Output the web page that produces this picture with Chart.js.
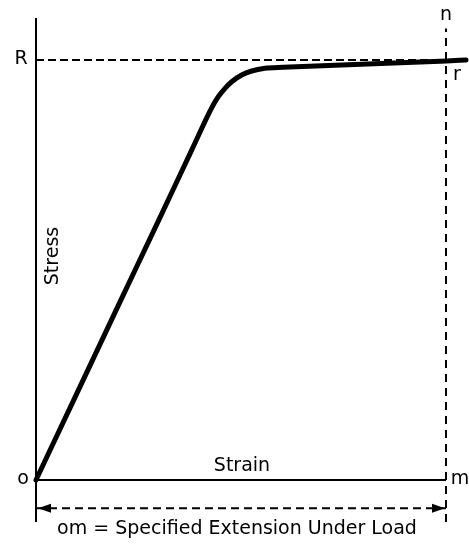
<!DOCTYPE html>
<html>
<head>
<meta charset="utf-8">
<script src="https://cdn.jsdelivr.net/npm/chart.js@4/dist/chart.umd.min.js"></script>
<style>
  html, body { margin: 0; padding: 0; background: #fff; }
  #wrap { width: 469px; height: 544px; }
</style>
</head>
<body>
<div id="wrap"><canvas id="myChart"></canvas></div>
<script>
// stress-strain curve (strain 0..100 = o..m, stress 100 = R)
const strain = [0, 10, 20, 30, 38, 42.85, 44.46, 46.1, 47.73, 50.17, 52.61, 55.85, 60.32, 100.17, 104.88];
const stress = [0, 20.7, 41.4, 62.0, 78.6, 88.6, 91.26, 93.26, 94.83, 96.43, 97.38, 98.02, 98.26, 99.76, 100];

const rLevel = 100;     // R
const mStrain = 100;    // m
const extY = -6.7;      // level of the om dimension arrow
const axisBottom = -10;
const axisTop = 110;
const nTop = 107.5;

const pointLabels = ["o", "m", "n", "r", "R"];
const axisTitles = ["Stress", "Strain"];
const caption = "om = Specified Extension Under Load";

const FONT = "'DejaVu Sans', Verdana, sans-serif";

const labelsPlugin = {
  id: "labels",
  afterDatasetsDraw(chart) {
    const { ctx, scales: { x, y } } = chart;
    ctx.save();
    ctx.fillStyle = "#000";
    ctx.font = "19px " + FONT;
    ctx.textBaseline = "middle";

    // arrow heads on the om dimension line
    const ay = y.getPixelForValue(extY);
    const ax0 = x.getPixelForValue(0) + 2;
    const ax1 = x.getPixelForValue(mStrain) - 1;
    ctx.beginPath();
    ctx.moveTo(ax0, ay);
    ctx.lineTo(ax0 + 13, ay - 4.5);
    ctx.lineTo(ax0 + 13, ay + 4.5);
    ctx.closePath();
    ctx.moveTo(ax1, ay);
    ctx.lineTo(ax1 - 13, ay - 4.5);
    ctx.lineTo(ax1 - 13, ay + 4.5);
    ctx.closePath();
    ctx.fill();

    ctx.textAlign = "center";
    ctx.fillText(pointLabels[0], x.getPixelForValue(0) - 13, y.getPixelForValue(0) - 1);
    ctx.fillText(pointLabels[1], x.getPixelForValue(mStrain) + 14, y.getPixelForValue(0) - 1);
    ctx.fillText(pointLabels[2], x.getPixelForValue(mStrain), 15);
    ctx.fillText(pointLabels[3], x.getPixelForValue(mStrain) + 11, y.getPixelForValue(rLevel) + 15);
    ctx.fillText(pointLabels[4], x.getPixelForValue(0) - 15, y.getPixelForValue(rLevel) - 1);

    ctx.fillText(axisTitles[1], 242, 466);
    ctx.fillText(caption, 237, 529);

    ctx.translate(53, 256);
    ctx.rotate(-Math.PI / 2);
    ctx.fillText(axisTitles[0], 0, 0);
    ctx.restore();
  }
};

const pts = (xs, ys) => xs.map((v, i) => ({ x: v, y: ys[i] }));

const dashed = { borderColor: "#000", borderWidth: 2, pointRadius: 0, tension: 0, clip: false };

new Chart(document.getElementById("myChart"), {
  type: "line",
  data: {
    datasets: [
      { data: pts([0, 104.9], [rLevel, rLevel]), ...dashed, borderDash: [8, 4] },
      { data: pts([mStrain, mStrain], [axisBottom, nTop]), ...dashed, borderDash: [8, 6] },
      { data: pts([0, mStrain], [extY, extY]), ...dashed, borderDash: [8, 5] },
      { data: pts([0, 0], [axisBottom, axisTop]), borderColor: "#000", borderWidth: 2, pointRadius: 0, clip: false },
      { data: pts([0, mStrain], [0, 0]), borderColor: "#000", borderWidth: 2, pointRadius: 0, clip: false },
      { data: pts(strain, stress), borderColor: "#000", borderWidth: 5, pointRadius: 0, clip: false,
        cubicInterpolationMode: "monotone", borderCapStyle: "round", borderJoinStyle: "round" }
    ]
  },
  options: {
    responsive: true,
    maintainAspectRatio: false,
    animation: false,
    layout: { padding: { left: 36, right: 2.5, top: 18, bottom: 13.6 } },
    plugins: { legend: { display: false }, tooltip: { enabled: false } },
    scales: {
      x: { type: "linear", min: 0, max: 105, display: false },
      y: { type: "linear", min: -12, max: 110, display: false }
    }
  },
  plugins: [labelsPlugin]
});
</script>
</body>
</html>
